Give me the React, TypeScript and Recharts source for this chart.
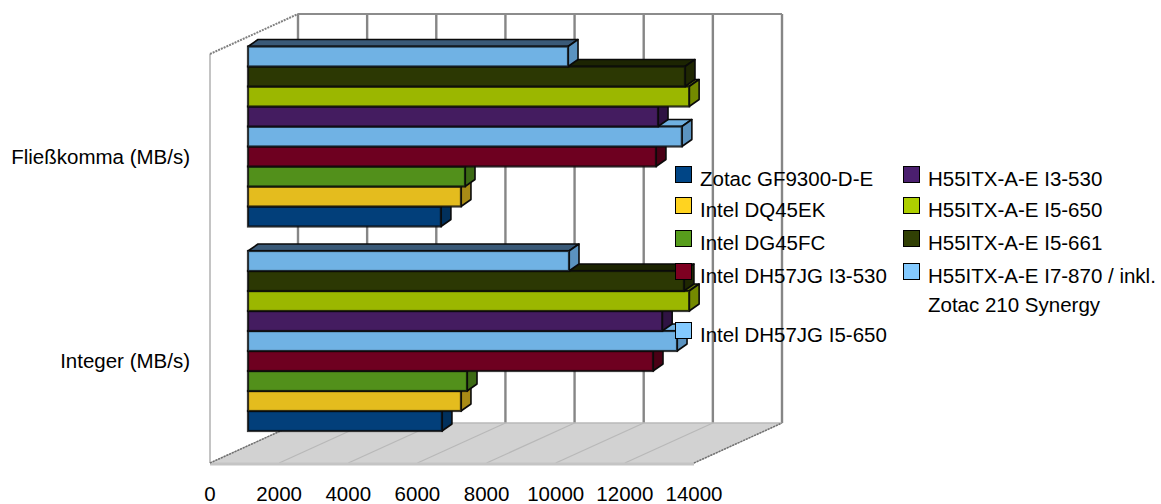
import React from "react";
import { BarChart, Bar, XAxis, YAxis, CartesianGrid, Customized } from "recharts";

const categories = ["Fließkomma (MB/s)", "Integer (MB/s)"];
const xTicks = [0, 2000, 4000, 6000, 8000, 10000, 12000, 14000];

const zotacGF9300 = [5580, 5610];
const intelDQ45EK = [6160, 6160];
const intelDG45FC = [6277, 6335];
const intelDH57I3 = [11800, 11715];
const intelDH57I5 = [12550, 12410];
const h55I3 = [11860, 11980];
const h55I5 = [12760, 12760];
const h55I5661 = [12640, 12610];
const h55I7 = [9257, 9285];

const seriesNames = [
  "Zotac GF9300-D-E",
  "Intel DQ45EK",
  "Intel DG45FC",
  "Intel DH57JG I3-530",
  "Intel DH57JG I5-650",
  "H55ITX-A-E I3-530",
  "H55ITX-A-E I5-650",
  "H55ITX-A-E I5-661",
  "H55ITX-A-E I7-870 / inkl. Zotac 210 Synergy",
];
const seriesValues = [zotacGF9300, intelDQ45EK, intelDG45FC, intelDH57I3, intelDH57I5, h55I3, h55I5, h55I5661, h55I7];
const swatchColors = ["#004586", "#ffd320", "#579d1c", "#7e0021", "#83caff", "#4b1f6f", "#aecf00", "#314004", "#83caff"];
const frontColors = ["#023f7a", "#e4bc1e", "#52901b", "#6e0020", "#70b2e4", "#441c60", "#9bb700", "#2c3803", "#70b2e4"];
const sideColors = ["#01305c", "#a98b16", "#3c6a14", "#4a0015", "#5b93c0", "#2f1343", "#748a00", "#1f2702", "#5b93c0"];
const topColors = ["#012a50", "#96780f", "#335b10", "#3e0012", "#6fb0e0", "#2a113d", "#66780a", "#1c2402", "#3a5a78"];

const data = categories.map((name, c) => {
  const row: Record<string, string | number> = { name };
  seriesNames.forEach((s, i) => (row[s] = seriesValues[i][c]));
  return row;
});

const FONT = "'Liberation Sans', Arial, sans-serif";
const FONT_SIZE = 20.5;
const W = 1161, H = 504;
const LEFT = 210, RIGHT = 694, TOP = 54, BOTTOM = 463;
const DEPTH_X = 88, DEPTH_Y = -40;
const BAR_DX = 38, BAR_DY = -18.5, FACE_DX = 10, FACE_DY = -7;

const bar3D = (i: number) => (p: any) => {
  const h = p.height;
  const x = p.x + BAR_DX;
  const y = p.y + BAR_DY + (seriesNames.length - 1 - 2 * i) * h;
  const w = p.width;
  const stroke = "#0a0a0a";
  return (
    <g>
      <polygon
        points={`${x},${y} ${x + FACE_DX},${y + FACE_DY} ${x + w + FACE_DX},${y + FACE_DY} ${x + w},${y}`}
        fill={topColors[i]} stroke={stroke} strokeWidth={1.6} strokeLinejoin="round" />
      <polygon
        points={`${x + w},${y} ${x + w + FACE_DX},${y + FACE_DY} ${x + w + FACE_DX},${y + h + FACE_DY} ${x + w},${y + h}`}
        fill={sideColors[i]} stroke={stroke} strokeWidth={1.6} strokeLinejoin="round" />
      <rect x={x} y={y} width={w} height={h} fill={frontColors[i]} stroke={stroke} strokeOpacity={0.8} strokeWidth={2.2} />
    </g>
  );
};

const floorShape = (p: any) => (
  <polygon
    key="floor"
    points={`${LEFT},${BOTTOM} ${RIGHT},${BOTTOM} ${RIGHT + DEPTH_X},${BOTTOM + DEPTH_Y} ${LEFT + DEPTH_X},${BOTTOM + DEPTH_Y}`}
    fill="#d2d2d2"
  />
);

const Room = () => (
  <g>
    <line x1={LEFT} y1={BOTTOM + 1} x2={RIGHT} y2={BOTTOM + 1} stroke="#c4c4c4" strokeWidth={3} />
    <line x1={LEFT + DEPTH_X} y1={BOTTOM + DEPTH_Y} x2={RIGHT + DEPTH_X} y2={BOTTOM + DEPTH_Y} stroke="#b8b8b8" strokeWidth={1.5} />
    <line x1={LEFT} y1={TOP} x2={LEFT} y2={BOTTOM} stroke="#b0b0b0" strokeWidth={1.5} />
    <line x1={LEFT} y1={TOP} x2={LEFT + DEPTH_X} y2={TOP + DEPTH_Y} stroke="#808080" strokeWidth={2} strokeDasharray="2 1" />
    <line x1={LEFT} y1={BOTTOM} x2={LEFT + DEPTH_X} y2={BOTTOM + DEPTH_Y} stroke="#707070" strokeWidth={1.5} strokeDasharray="2 1" />
    <line x1={RIGHT} y1={BOTTOM} x2={RIGHT + DEPTH_X} y2={BOTTOM + DEPTH_Y} stroke="#707070" strokeWidth={1.5} strokeDasharray="2 1" />
    <line x1={LEFT + DEPTH_X} y1={TOP + DEPTH_Y} x2={RIGHT + DEPTH_X} y2={TOP + DEPTH_Y} stroke="#8c8c8c" strokeWidth={2} />
  </g>
);

const gridLine = (p: any) => (
  <g key={p.key ?? p.x1}>
    <line x1={p.x1 + DEPTH_X} y1={TOP + DEPTH_Y} x2={p.x1 + DEPTH_X} y2={BOTTOM + DEPTH_Y} stroke="#868686" strokeWidth={2.4} />
    <line x1={p.x1} y1={BOTTOM} x2={p.x1 + DEPTH_X} y2={BOTTOM + DEPTH_Y} stroke="#b8b8b8" strokeWidth={1.2} />
  </g>
);

const legendLayout = [
  { left: 675, top: 166 },
  { left: 675, top: 197 },
  { left: 675, top: 230 },
  { left: 675, top: 263 },
  { left: 675, top: 322 },
  { left: 903, top: 166 },
  { left: 903, top: 197 },
  { left: 903, top: 230 },
  { left: 903, top: 263 },
];

const LegendBox = () => (
  <div style={{ position: "absolute", left: 0, top: 0, width: W, height: H, pointerEvents: "none" }}>
    {seriesNames.map((name, i) => {
      const lines = name.includes(" / inkl. ") ? [name.split(" / inkl. ")[0] + " / inkl.", name.split(" / inkl. ")[1]] : [name];
      return (
        <div key={name} style={{ position: "absolute", left: legendLayout[i].left, top: legendLayout[i].top }}>
          <div style={{ position: "absolute", left: 0, top: 0, width: 15, height: 15, background: swatchColors[i], border: "1px solid #000" }} />
          <div style={{ position: "absolute", left: 25, top: -2, fontFamily: FONT, fontSize: FONT_SIZE, lineHeight: "29px", whiteSpace: "nowrap", color: "#000" }}>
            {lines.map((l) => (
              <div key={l}>{l}</div>
            ))}
          </div>
        </div>
      );
    })}
  </div>
);

export default function App() {
  return (
    <div style={{ position: "absolute", left: 0, top: 0, width: W, height: H, background: "#fff" }}>
      <BarChart
        width={W}
        height={H}
        data={data}
        layout="vertical"
        margin={{ top: TOP, right: W - RIGHT, bottom: 0, left: 0 }}
        barCategoryGap={11}
        barGap={0}
      >
        <Customized component={Room} />
        <CartesianGrid horizontal={floorShape} horizontalPoints={[BOTTOM]} vertical={gridLine} />
        <XAxis
          type="number"
          domain={[0, 14000]}
          ticks={xTicks}
          interval={0}
          height={H - BOTTOM}
          axisLine={false}
          tickLine={false}
          tickMargin={17}
          tick={{ fill: "#000", fontFamily: FONT, fontSize: FONT_SIZE }}
        />
        <YAxis
          type="category"
          dataKey="name"
          width={LEFT}
          axisLine={false}
          tickLine={false}
          tickMargin={14}
          tick={{ fill: "#000", fontFamily: FONT, fontSize: FONT_SIZE }}
        />
        {seriesNames.map((s, i) => (
          <Bar key={s} dataKey={s} isAnimationActive={false} shape={bar3D(i)} fill={frontColors[i]} />
        ))}
      </BarChart>
      <LegendBox />
    </div>
  );
}
